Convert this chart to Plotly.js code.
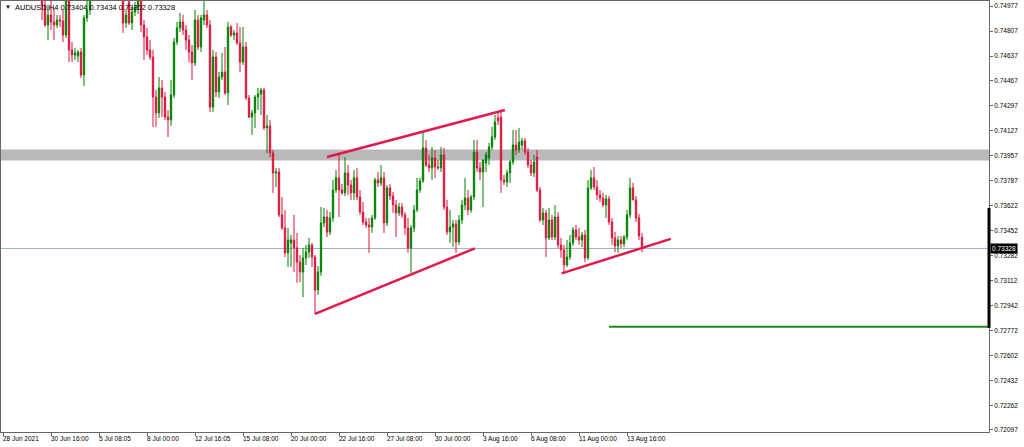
<!DOCTYPE html>
<html><head><meta charset="utf-8">
<script src="https://cdn.plot.ly/plotly-3.0.1.min.js"></script>
<style>html,body{margin:0;padding:0;background:#fff;}#chart{width:1024px;height:447px;}</style>
</head><body><div id="chart"></div>
<script>
// H4 bars, AUDUSD
const opens = [0.7585,0.7580,0.7572,0.7564,0.7570,0.7558,0.7550,0.7556,0.7542,0.7535,0.7540,0.7527,0.7520,
0.75086,0.74984,0.74848,0.74916,0.74868,0.74848,0.74882,0.74875,0.74780,0.75018,0.74678,0.74644,0.74637,0.74664,0.74508,0.74896,0.74950,
0.75052,0.7512,0.7520,0.7515,0.7526,0.7522,0.7518,0.7528,0.7520,0.7512,
0.75052,0.74861,0.75004,0.74861,0.74936,0.74970,0.75032,0.74848,0.74766,0.74678,
0.74630,0.74358,0.74250,0.74420,0.74358,0.74222,0.74202,0.74372,0.74732,0.74828,
0.74868,0.74814,0.74746,0.74664,0.74590,0.74882,0.74698,0.74882,0.74916,0.74848,
0.74290,0.74630,0.74392,0.74494,0.74528,0.74386,0.74834,0.74780,0.74794,0.74726,
0.74596,0.74698,0.74352,0.74222,0.74250,0.74358,0.74379,0.74406,0.74148,0.74161,
0.73978,0.73842,0.73848,0.73556,0.73468,0.73298,0.73366,0.73386,0.73332,0.73236,
0.73168,0.73264,0.73304,0.73352,0.73270,0.73046,0.73168,0.73502,0.73542,0.73440,
0.73536,0.73726,0.73808,0.73726,0.73706,0.73842,0.73760,0.73706,0.73808,0.73678,
0.73576,0.73508,0.73488,0.73474,0.73536,0.73794,0.73774,0.73808,0.73502,0.73740,
0.73685,0.73624,0.73570,0.73610,0.73556,0.73468,0.73332,0.73468,0.73590,0.73726,
0.73787,0.74012,0.73896,0.73876,0.73944,0.73882,0.73876,0.73964,0.73610,0.73440,
0.73474,0.73495,0.73372,0.73522,0.73624,0.73671,0.73590,0.73678,0.73984,0.73876,
0.73848,0.73910,0.73944,0.74018,0.74086,0.74216,0.74222,0.73794,0.73780,0.73842,
0.73916,0.74032,0.73998,0.74032,0.74059,0.73984,0.73896,0.73842,0.73950,0.73726,
0.73522,0.73570,0.73400,0.73522,0.73406,0.73542,0.73352,0.73318,0.73216,0.73270,
0.73366,0.73454,0.73406,0.73386,0.73420,0.73264,0.73740,0.73808,0.73746,0.73692,
0.73671,0.73624,0.73665,0.73508,0.73400,0.73345,0.73386,0.73359,0.73406,0.73556,
0.73740,0.73658,0.73536,0.73404];
const highs = [0.7597,0.7588,0.7579,0.7575,0.7578,0.7565,0.7562,0.7560,0.7550,0.7546,0.7544,0.7535,0.7528,
0.75120,0.75052,0.74984,0.75018,0.74964,0.74916,0.74916,0.74950,0.75052,0.75052,0.74732,0.74692,0.74678,0.74692,0.74916,0.75018,0.75086,
0.7515,0.7525,0.7528,0.7530,0.7535,0.7529,0.7532,0.7534,0.7524,0.7518,
0.75086,0.74950,0.75052,0.74970,0.75004,0.75072,0.75072,0.74882,0.74828,0.74746,
0.74678,0.74406,0.74494,0.74474,0.74392,0.74270,0.74474,0.74760,0.74868,0.74930,
0.74916,0.74848,0.74780,0.74712,0.74950,0.74916,0.74916,0.75032,0.74950,0.74882,
0.74678,0.74664,0.74528,0.74657,0.74698,0.74868,0.74848,0.74814,0.74861,0.74834,
0.74834,0.74732,0.74372,0.74270,0.74372,0.74420,0.74420,0.74420,0.74236,0.74202,
0.73998,0.73876,0.73876,0.73678,0.73590,0.73468,0.73420,0.73556,0.73434,0.73284,
0.73332,0.73352,0.73400,0.73366,0.73284,0.73209,0.73610,0.73604,0.73590,0.73576,
0.73794,0.73862,0.73964,0.73767,0.73950,0.73896,0.73794,0.73862,0.73876,0.73726,
0.73644,0.73536,0.73536,0.73556,0.73808,0.73848,0.73896,0.73848,0.73760,0.73767,
0.73712,0.73658,0.73638,0.73638,0.73576,0.73536,0.73488,0.73624,0.73808,0.73808,
0.74120,0.74066,0.73964,0.74018,0.73998,0.73930,0.74018,0.74012,0.73658,0.73590,
0.73522,0.73522,0.73556,0.73658,0.73808,0.73726,0.73692,0.74066,0.74066,0.73916,
0.73930,0.73984,0.74046,0.74154,0.74236,0.74250,0.74270,0.73828,0.73862,0.73930,
0.74134,0.74134,0.74148,0.74080,0.74080,0.74012,0.73930,0.73964,0.73998,0.73746,
0.73604,0.73590,0.73604,0.73556,0.73624,0.73576,0.73400,0.73352,0.73386,0.73420,
0.73474,0.73488,0.73468,0.73440,0.73454,0.73794,0.73862,0.73882,0.73794,0.73726,
0.73706,0.73692,0.73685,0.73536,0.73440,0.73413,0.73413,0.73420,0.73590,0.73808,
0.73774,0.73685,0.73563,0.73434];
const lows = [0.7574,0.7568,0.7560,0.7558,0.7555,0.7545,0.7541,0.7538,0.7530,0.7526,0.7522,0.7515,0.7508,
0.74882,0.74834,0.74746,0.74814,0.74746,0.74828,0.74834,0.74732,0.74760,0.74596,0.74596,0.74610,0.74596,0.74488,0.74433,0.74868,0.74916,
0.7503,0.7508,0.7510,0.7511,0.7518,0.7512,0.7514,0.7516,0.7508,0.7504,
0.74794,0.74828,0.74848,0.74814,0.74909,0.74923,0.74800,0.74610,0.74644,0.74610,
0.74154,0.74154,0.74216,0.74222,0.74202,0.74086,0.74161,0.74352,0.74712,0.74800,
0.74780,0.74678,0.74596,0.74474,0.74569,0.74678,0.74664,0.74848,0.74828,0.74256,
0.74256,0.74358,0.74352,0.74474,0.74372,0.74304,0.74766,0.74746,0.74712,0.74528,
0.74576,0.74338,0.74216,0.74100,0.74148,0.74270,0.74236,0.74134,0.73978,0.73950,
0.73706,0.73746,0.73542,0.73454,0.73270,0.73202,0.73202,0.73168,0.73094,0.73100,
0.72998,0.73216,0.73264,0.73202,0.72883,0.73012,0.73141,0.73474,0.73406,0.73420,
0.73508,0.73706,0.73542,0.73692,0.73685,0.73692,0.73658,0.73658,0.73658,0.73556,
0.73488,0.73468,0.73298,0.73434,0.73522,0.73746,0.73753,0.73434,0.73481,0.73658,
0.73570,0.73406,0.73549,0.73536,0.73420,0.73298,0.73162,0.73440,0.73576,0.73706,
0.73774,0.73882,0.73848,0.73794,0.73808,0.73862,0.73848,0.73590,0.73420,0.73366,
0.73338,0.73298,0.73352,0.73495,0.73590,0.73556,0.73570,0.73658,0.73848,0.73794,
0.73610,0.73848,0.73896,0.73998,0.74066,0.74168,0.73706,0.73760,0.73746,0.73774,
0.73896,0.73964,0.73978,0.73998,0.73964,0.73876,0.73821,0.73814,0.73712,0.73508,
0.73488,0.73270,0.73386,0.73386,0.73386,0.73332,0.73264,0.73168,0.73202,0.73250,
0.73345,0.73386,0.73352,0.73338,0.73236,0.73250,0.73726,0.73726,0.73658,0.73644,
0.73610,0.73536,0.73488,0.73352,0.73304,0.73298,0.73332,0.73338,0.73386,0.73536,
0.73658,0.73508,0.73386,0.73302];
const closes = [0.7580,0.7572,0.7564,0.7570,0.7558,0.7550,0.7556,0.7542,0.7535,0.7540,0.7527,0.7520,0.7512,
0.74984,0.74848,0.74916,0.74868,0.74848,0.74882,0.74875,0.74780,0.75018,0.74678,0.74644,0.74658,0.74664,0.74508,0.74896,0.74950,0.75052,
0.7512,0.7520,0.7515,0.7526,0.7522,0.7518,0.7528,0.7520,0.7512,0.7508,
0.74861,0.74916,0.74861,0.74936,0.74970,0.75032,0.74848,0.74766,0.74678,0.74630,
0.74358,0.74250,0.74420,0.74358,0.74222,0.74202,0.74372,0.74732,0.74828,0.74868,
0.74814,0.74746,0.74664,0.74590,0.74882,0.74698,0.74896,0.74916,0.74848,0.74290,
0.74630,0.74392,0.74494,0.74528,0.74386,0.74834,0.74780,0.74794,0.74726,0.74596,
0.74698,0.74352,0.74222,0.74250,0.74358,0.74379,0.74406,0.74148,0.74161,0.73978,
0.73842,0.73848,0.73556,0.73468,0.73298,0.73386,0.73386,0.73332,0.73236,0.73168,
0.73264,0.73304,0.73352,0.73270,0.73046,0.73168,0.73502,0.73542,0.73440,0.73536,
0.73726,0.73808,0.73726,0.73706,0.73842,0.73760,0.73706,0.73808,0.73678,0.73576,
0.73508,0.73488,0.73474,0.73536,0.73794,0.73774,0.73808,0.73502,0.73740,0.73685,
0.73624,0.73570,0.73610,0.73556,0.73468,0.73332,0.73468,0.73590,0.73726,0.73787,
0.74012,0.73896,0.73876,0.73944,0.73882,0.73876,0.73964,0.73610,0.73440,0.73474,
0.73495,0.73372,0.73522,0.73624,0.73671,0.73590,0.73678,0.73984,0.73876,0.73848,
0.73930,0.73964,0.74018,0.74086,0.74188,0.74195,0.73794,0.73780,0.73842,0.73916,
0.74032,0.73998,0.74052,0.74059,0.73984,0.73896,0.73842,0.73916,0.73726,0.73522,
0.73570,0.73400,0.73522,0.73406,0.73542,0.73352,0.73318,0.73216,0.73270,0.73366,
0.73454,0.73406,0.73386,0.73420,0.73264,0.73740,0.73808,0.73746,0.73692,0.73671,
0.73624,0.73665,0.73508,0.73400,0.73345,0.73386,0.73359,0.73406,0.73556,0.73740,
0.73658,0.73536,0.73413,0.73328];

const timeTickIdx = [0,16,32,48,64,80,96,112,128,144,160,176,192,208];
const timeTickLabels = ["28 Jun 2021","30 Jun 16:00","5 Jul 08:05","8 Jul 00:00","12 Jul 16:05","15 Jul 08:00","20 Jul 00:00","22 Jul 16:00","27 Jul 08:00","30 Jul 00:00","3 Aug 16:00","6 Aug 08:00","11 Aug 00:00","13 Aug 16:00"];
const priceTicks = [0.74977,0.74807,0.74637,0.74467,0.74297,0.74127,0.73957,0.73787,0.73622,0.73452,0.73282,0.73112,0.72942,0.72772,0.72602,0.72432,0.72262,0.72097];

const bidPrice = 0.73328;
const resistanceZone = [0.73927, 0.74001];
const upperChannelX = [108, 167.3], upperChannelY = [0.73950, 0.74270];
const lowerChannelX = [104, 157.3], lowerChannelY = [0.72883, 0.73329];
const supportLineX = [186.2, 222.6], supportLineY = [0.73159, 0.73393];
const targetLevel = 0.72795, targetStartIdx = 202;
const rangeMarker = [0.72788, 0.73604];
const headerText = "AUDUSD,H4 0.73404 0.73434 0.73302 0.73328";

const xIdx = closes.map((_, i) => i);
const FONT = "Liberation Sans, Arial, sans-serif";
const RED = "#dc143c", GREEN = "#008000", TL = "#e3194b";

const trace = {
  type: "candlestick", x: xIdx, open: opens, high: highs, low: lows, close: closes,
  increasing: {line: {color: GREEN, width: 1}, fillcolor: GREEN},
  decreasing: {line: {color: RED, width: 1}, fillcolor: RED},
  whiskerwidth: 0, hoverinfo: "skip", showlegend: false
};

const annotations = timeTickIdx.map((t, k) => ({
  x: t, xref: "x", y: 0, yref: "paper", yanchor: "top", xanchor: "left",
  xshift: -2, yshift: -1, showarrow: false, text: timeTickLabels[k],
  font: {family: FONT, size: 6.5, color: "#000"}
}));
annotations.push({x: 0, xref: "paper", y: 1, yref: "paper", xanchor: "left", yanchor: "top",
  xshift: 2, yshift: -1, showarrow: false, text: "▼", font: {family: FONT, size: 6, color: "#000"}});
annotations.push({x: 0, xref: "paper", y: 1, yref: "paper", xanchor: "left", yanchor: "top",
  xshift: 12, yshift: 0, showarrow: false, text: headerText, font: {family: FONT, size: 7.5, color: "#000"}});
annotations.push({x: 1, xref: "paper", y: bidPrice, yref: "y", xanchor: "left", yanchor: "middle",
  xshift: 1, showarrow: false, text: bidPrice.toFixed(5), bgcolor: "#000", borderpad: 1,
  font: {family: FONT, size: 6.5, color: "#fff"}});

const shapes = [
  {type: "rect", xref: "paper", x0: 0, x1: 1, yref: "y", y0: resistanceZone[0], y1: resistanceZone[1],
   fillcolor: "#b9b9b9", line: {width: 0}, layer: "below"},
  {type: "line", xref: "paper", x0: 0, x1: 1, yref: "y", y0: bidPrice, y1: bidPrice,
   line: {color: "#a3b1c2", width: 1}, layer: "below"},
  {type: "line", xref: "x", x0: upperChannelX[0], x1: upperChannelX[1], yref: "y", y0: upperChannelY[0], y1: upperChannelY[1],
   line: {color: TL, width: 2.5}},
  {type: "line", xref: "x", x0: lowerChannelX[0], x1: lowerChannelX[1], yref: "y", y0: lowerChannelY[0], y1: lowerChannelY[1],
   line: {color: TL, width: 2.5}},
  {type: "line", xref: "x", x0: supportLineX[0], x1: supportLineX[1], yref: "y", y0: supportLineY[0], y1: supportLineY[1],
   line: {color: TL, width: 2.5}},
  {type: "line", xref: "x", x0: targetStartIdx, x1: 328.667, yref: "y", y0: targetLevel, y1: targetLevel,
   line: {color: "#1e8a1e", width: 2}},
  {type: "line", xref: "paper", x0: 1, x1: 1, yref: "y", y0: rangeMarker[0], y1: rangeMarker[1],
   line: {color: "#000", width: 3}}
];

const layout = {
  width: 1024, height: 447,
  margin: {l: 1, r: 35, t: 1, b: 15, pad: 0},
  paper_bgcolor: "#fff", plot_bgcolor: "#fff",
  showlegend: false, boxgap: 0.35,
  font: {family: FONT, size: 6.5, color: "#000"},
  xaxis: {type: "linear", range: [-0.6667, 328.667], rangeslider: {visible: false},
    showgrid: false, zeroline: false, showline: true, linecolor: "#666", linewidth: 1, mirror: true,
    ticks: "outside", ticklen: 3, tickcolor: "#666", tickvals: timeTickIdx, showticklabels: false, fixedrange: true},
  yaxis: {range: [0.72080, 0.75011], side: "right", showgrid: false, zeroline: false,
    showline: true, linecolor: "#666", linewidth: 1, mirror: true,
    ticks: "outside", ticklen: 3, tickcolor: "#666",
    tickvals: priceTicks, ticktext: priceTicks.map(v => v.toFixed(5)),
    tickfont: {family: FONT, size: 6.5, color: "#000"}, fixedrange: true},
  shapes: shapes, annotations: annotations
};

Plotly.newPlot("chart", [trace], layout, {staticPlot: true, displayModeBar: false});
</script></body></html>
